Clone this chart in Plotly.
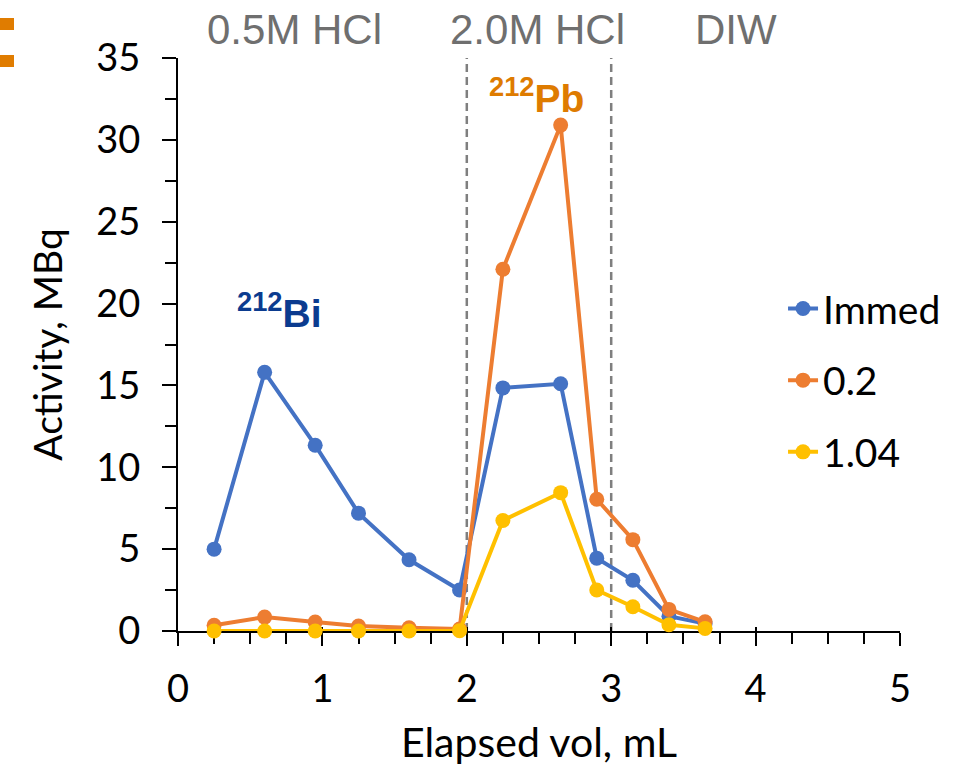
import plotly.graph_objects as go

# Elution volumes (mL) at which fractions were collected
elapsed_ml = [0.25, 0.6, 0.95, 1.25, 1.6, 1.95, 2.25, 2.65, 2.9, 3.15, 3.4, 3.65]

# Activity (MBq) per fraction for each series
immed = [5.0, 15.8, 11.35, 7.2, 4.35, 2.5, 14.85, 15.1, 4.45, 3.1, 0.9, 0.45]
s_02 = [0.35, 0.85, 0.55, 0.3, 0.2, 0.12, 22.1, 30.9, 8.05, 5.58, 1.32, 0.56]
s_104 = [0.0, 0.0, 0.0, 0.0, 0.0, 0.02, 6.75, 8.45, 2.5, 1.48, 0.38, 0.16]

series_names = ["Immed", "0.2", "1.04"]
series_colors = ["#4472C4", "#ED7D31", "#FFC000"]

# Eluent regions along the volume axis
eluent_labels = ["0.5M HCl", "2.0M HCl", "DIW"]
eluent_centers = [0.81, 2.49, 3.865]
eluent_bounds = [2, 3]

x_ticks = [0, 1, 2, 3, 4, 5]
y_ticks = [0, 5, 10, 15, 20, 25, 30, 35]

TICK_FONT = "Lato, Carlito, Calibri, sans-serif"
LABEL_FONT = "Liberation Sans, Arial, sans-serif"

fig = go.Figure()
for name, vals, col in zip(series_names, [immed, s_02, s_104], series_colors):
    fig.add_trace(go.Scatter(
        x=elapsed_ml, y=vals, name=name, mode="lines+markers",
        line=dict(color=col, width=4),
        marker=dict(color=col, size=15),
        cliponaxis=False, legendgroup=name,
    ))

# Boundaries between eluents
for xb in eluent_bounds:
    fig.add_shape(type="line", xref="x", yref="y", x0=xb, x1=xb, y0=0, y1=35,
                  line=dict(color="#7F7F7F", width=2.5, dash="8px,5px"), layer="below")

for txt, xc in zip(eluent_labels, eluent_centers):
    fig.add_annotation(x=xc, xref="x", y=1.05, yref="paper", yanchor="middle",
                       text=txt, showarrow=False,
                       font=dict(family=LABEL_FONT, size=42, color="#6F6F6F"))

fig.add_annotation(x=0.7, y=19.6, xref="x", yref="y", showarrow=False,
                   text="<b><sup>212</sup>Bi</b>",
                   font=dict(family=LABEL_FONT, size=39, color="#0B3B8F"))
fig.add_annotation(x=2.485, y=32.7, xref="x", yref="y", showarrow=False,
                   text="<b><sup>212</sup>Pb</b>",
                   font=dict(family=LABEL_FONT, size=39, color="#DE7B00"))

# Panel letter fragment at the top-left edge
for y0, y1 in [(18, 30), (55, 67)]:
    fig.add_shape(type="rect", xref="paper", yref="paper",
                  x0=-178 / 722, x1=(14 - 178) / 722,
                  y0=(631 - y1) / 573, y1=(631 - y0) / 573,
                  fillcolor="#E07C00", line=dict(width=0))

fig.update_layout(
    width=954, height=768,
    margin=dict(l=178, r=54, t=58, b=137, autoexpand=False),
    paper_bgcolor="white", plot_bgcolor="white",
    showlegend=True,
    legend=dict(x=0.838, xanchor="left", y=0.437, yanchor="middle",
                font=dict(family=TICK_FONT, size=39, color="black"),
                bgcolor="rgba(0,0,0,0)", traceorder="grouped", tracegroupgap=18,
                itemwidth=30),
    xaxis=dict(
        range=[0, 5], tickvals=x_ticks, ticktext=[str(v) for v in x_ticks],
        showgrid=False, zeroline=False, showline=True, linecolor="black", linewidth=2,
        ticks="outside", ticklen=13, tickwidth=2, tickcolor="black",
        minor=dict(dtick=0.25, ticks="outside", ticklen=11, tickwidth=2, tickcolor="black"),
        tickfont=dict(family=TICK_FONT, size=38, color="black"), ticklabelstandoff=10,
        title=dict(text="Elapsed vol, mL", font=dict(family=TICK_FONT, size=41, color="black"), standoff=20),
        layer="below traces",
    ),
    xaxis2=dict(
        range=[0, 5], overlaying="x", anchor="y", side="bottom", tickvals=x_ticks,
        showticklabels=False, showgrid=False, zeroline=False, showline=False,
        ticks="inside", ticklen=4, tickwidth=2, tickcolor="black", layer="below traces",
    ),
    yaxis=dict(
        range=[0, 35], tickvals=y_ticks, ticktext=[str(v) for v in y_ticks],
        showgrid=False, zeroline=False, showline=True, linecolor="black", linewidth=2,
        ticks="outside", ticklen=14, tickwidth=2, tickcolor="black",
        minor=dict(dtick=2.5, ticks="outside", ticklen=11, tickwidth=2, tickcolor="black"),
        tickfont=dict(family=TICK_FONT, size=38, color="black"), ticklabelstandoff=14,
        title=dict(text="Activity, MBq", font=dict(family=TICK_FONT, size=39, color="black"), standoff=22),
        layer="below traces",
    ),
)

# Invisible trace to activate the overlay axis carrying the inner tick stubs
fig.add_trace(go.Scatter(x=[0], y=[0], xaxis="x2", yaxis="y", mode="markers",
                         marker=dict(opacity=0), showlegend=False, hoverinfo="skip"))

fig.write_html("out.html")
